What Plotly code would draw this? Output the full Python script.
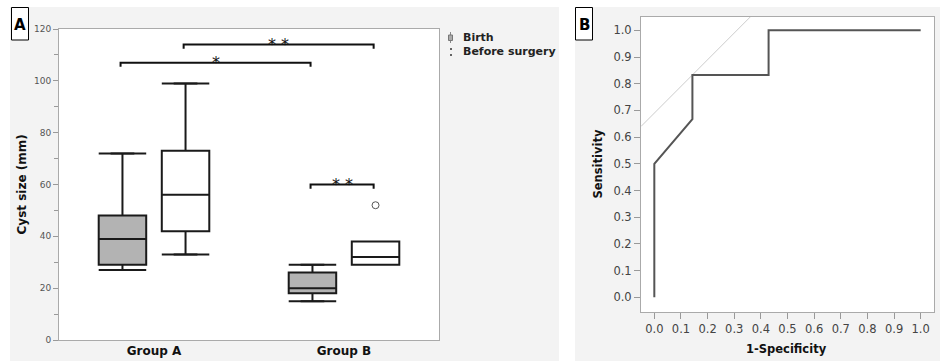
import plotly.graph_objects as go

# ---------------- data ----------------
groups = ["Group A", "Group B"]
birth_lower = [27, 15]
birth_q1 = [29, 18]
birth_median = [39, 20]
birth_q3 = [48, 26]
birth_upper = [72, 29]
surg_lower = [33, 29]
surg_q1 = [42, 29]
surg_median = [56, 32]
surg_q3 = [73, 38]
surg_upper = [99, 38]
surg_outlier_group = [1]
surg_outlier_value = [52]

# significance comparisons: (group a, series a, group b, series b, bracket height, label)
comparisons = [
    (0, "birth", 1, "birth", 107, "*"),
    (0, "surgery", 1, "surgery", 114, "* *"),
    (1, "birth", 1, "surgery", 60, "* *"),
]

roc_fpr = [0.0, 0.0, 0.143, 0.143, 0.429, 0.429, 1.0]
roc_tpr = [0.0, 0.5, 0.667, 0.833, 0.833, 1.0, 1.0]
roc_ticks = [0.0, 0.1, 0.2, 0.3, 0.4, 0.5, 0.6, 0.7, 0.8, 0.9, 1.0]

# ---------------- helpers ----------------
W, H = 940, 361
def px(x):
    return x / W
def py(y):
    return 1 - y / H

FONT = "DejaVu Sans"
OFFSET = 0.166
BOXW = 0.25
series_off = {"birth": -OFFSET, "surgery": OFFSET}
gpos = list(range(len(groups)))

fig = go.Figure()

# ---------------- panel A: boxes ----------------
def add_box(off, q1, med, q3, lo, hi, fill):
    xs = [g + off for g in gpos]
    fig.add_trace(go.Box(
        x=xs, q1=q1, median=med, q3=q3, lowerfence=lo, upperfence=hi,
        width=BOXW, fillcolor=fill, line=dict(color="#1a1a1a", width=2),
        boxpoints=False, hoverinfo="skip", showlegend=False,
        xaxis="x", yaxis="y"))
    # whisker caps
    cx, cy = [], []
    for x, l, h, a, b in zip(xs, lo, hi, q1, q3):
        if l < a:
            cx += [x - BOXW / 2, x + BOXW / 2, None]
            cy += [l, l, None]
        if h > b:
            cx += [x - BOXW / 2, x + BOXW / 2, None]
            cy += [h, h, None]
    fig.add_trace(go.Scatter(x=cx, y=cy, mode="lines",
                             line=dict(color="#1a1a1a", width=2),
                             hoverinfo="skip", showlegend=False,
                             xaxis="x", yaxis="y"))

add_box(series_off["birth"], birth_q1, birth_median, birth_q3,
        birth_lower, birth_upper, "#b3b3b3")
add_box(series_off["surgery"], surg_q1, surg_median, surg_q3,
        surg_lower, surg_upper, "white")

fig.add_trace(go.Scatter(
    x=[g + series_off["surgery"] for g in surg_outlier_group],
    y=surg_outlier_value, mode="markers",
    marker=dict(symbol="circle-open", size=7, color="#555", line=dict(width=1)),
    hoverinfo="skip", showlegend=False, xaxis="x", yaxis="y"))

annotations = []
TICKDROP = 1.6
for ga, sa, gb, sb, h, lab in comparisons:
    xa = ga + series_off[sa] - 0.01
    xb = gb + series_off[sb] - 0.01
    fig.add_trace(go.Scatter(
        x=[xa, xa, xb, xb], y=[h - TICKDROP, h, h, h - TICKDROP],
        mode="lines", line=dict(color="#111", width=2),
        hoverinfo="skip", showlegend=False, xaxis="x", yaxis="y"))
    annotations.append(dict(
        x=(xa + xb) / 2, y=h, xref="x", yref="y", text=lab, showarrow=False,
        xanchor="center", yanchor="bottom", yshift=-11,
        font=dict(family=FONT, size=16, color="#111")))

# ---------------- panel B: ROC ----------------
youden = max(t - f for t, f in zip(roc_tpr, roc_fpr))
xr = [-0.05, 1.05]
fig.add_trace(go.Scatter(
    x=xr, y=[x + youden for x in xr], mode="lines",
    line=dict(color="#cccccc", width=1), hoverinfo="skip", showlegend=False,
    xaxis="x2", yaxis="y2"))
fig.add_trace(go.Scatter(
    x=roc_fpr, y=roc_tpr, mode="lines",
    line=dict(color="#555555", width=2), hoverinfo="skip", showlegend=False,
    xaxis="x2", yaxis="y2"))

# ---------------- shapes (panels, letter boxes, legend icons) ----------------
shapes = [
    dict(type="rect", xref="paper", yref="paper", x0=px(10), x1=px(559),
         y0=py(361), y1=py(7), fillcolor="#f3f3f3", line=dict(width=0), layer="below"),
    dict(type="rect", xref="paper", yref="paper", x0=px(575), x1=px(940),
         y0=py(361), y1=py(7), fillcolor="#f3f3f3", line=dict(width=0), layer="below"),
    dict(type="rect", xref="paper", yref="paper", x0=px(59), x1=px(439),
         y0=py(340), y1=py(29), fillcolor="white", line=dict(width=0), layer="below"),
    dict(type="rect", xref="paper", yref="paper", x0=px(641), x1=px(934),
         y0=py(312), y1=py(17), fillcolor="white", line=dict(width=0), layer="below"),
    # letter boxes
    dict(type="rect", xref="paper", yref="paper", x0=px(11.5), x1=px(28.5),
         y0=py(40), y1=py(7.5), fillcolor="white", line=dict(color="black", width=1)),
    dict(type="rect", xref="paper", yref="paper", x0=px(575.5), x1=px(592.5),
         y0=py(40), y1=py(7.5), fillcolor="white", line=dict(color="black", width=1)),
    # legend icons
    dict(type="line", xref="paper", yref="paper", x0=px(450.5), x1=px(450.5),
         y0=py(43), y1=py(32), line=dict(color="#888", width=1)),
    dict(type="rect", xref="paper", yref="paper", x0=px(448.5), x1=px(452.5),
         y0=py(40.5), y1=py(35), fillcolor="#aaa", line=dict(color="#777", width=1)),
    dict(type="circle", xref="paper", yref="paper", x0=px(450), x1=px(452),
         y0=py(50), y1=py(48), fillcolor="#333", line=dict(width=0)),
    dict(type="circle", xref="paper", yref="paper", x0=px(450), x1=px(452),
         y0=py(56), y1=py(54), fillcolor="#333", line=dict(width=0)),
]

def ann(x, y, text, size, color="#111", xanchor="center", angle=0):
    return dict(x=px(x), y=py(y), xref="paper", yref="paper", text=text,
                xanchor=xanchor, yanchor="middle", textangle=angle,
                showarrow=False, font=dict(family=FONT, size=size, color=color))

annotations += [
    ann(20, 24.5, "<b>A</b>", 15, "black"),
    ann(584, 24.5, "<b>B</b>", 15, "black"),
    ann(461, 37, "<b>Birth</b>", 11, "#222", xanchor="left"),
    ann(461, 52, "<b>Before surgery</b>", 11, "#222", xanchor="left"),
    ann(21, 184.5, "<b>Cyst size (mm)</b>", 12, angle=-90),
    ann(597, 164.5, "<b>Sensitivity</b>", 11.5, angle=-90),
    ann(786, 349, "<b>1-Specificity</b>", 11.5),
]

axis_line = "#aaaaaa"
fig.update_layout(
    width=W, height=H, autosize=False,
    margin=dict(l=0, r=0, t=0, b=0, pad=0, autoexpand=False),
    paper_bgcolor="white", plot_bgcolor="white",
    showlegend=False,
    shapes=shapes, annotations=annotations,
    xaxis=dict(domain=[px(59), px(439)], anchor="y", range=[-0.5, 1.5],
               automargin=False,
               tickvals=gpos, ticktext=["<b>%s</b>" % g for g in groups],
               tickfont=dict(family=FONT, size=12, color="#111"),
               showgrid=False, zeroline=False, ticks="",
               showline=True, linecolor=axis_line, linewidth=1, mirror=True),
    yaxis=dict(domain=[py(340), py(29)], anchor="x", range=[0, 120],
               automargin=False,
               dtick=20, tick0=0, ticks="outside", ticklen=5, tickcolor="#999",
               tickfont=dict(family=FONT, size=9, color="#555"),
               minor=dict(dtick=10, ticks="outside", ticklen=4, tickcolor="#999"),
               showgrid=False, zeroline=False,
               showline=True, linecolor=axis_line, linewidth=1, mirror=True),
    xaxis2=dict(domain=[px(641), px(934)], anchor="y2", range=[-0.05, 1.05],
                automargin=False,
                tickvals=roc_ticks, tickformat=".1f",
                ticks="outside", ticklen=6, tickcolor="#999",
                tickfont=dict(family=FONT, size=11.5, color="#444"),
                showgrid=False, zeroline=False,
                showline=True, linecolor=axis_line, linewidth=1, mirror=True),
    yaxis2=dict(domain=[py(312), py(17)], anchor="x2", range=[-0.055, 1.05],
                automargin=False,
                tickvals=roc_ticks, tickformat=".1f",
                ticks="outside", ticklen=6, tickcolor="#999",
                tickfont=dict(family=FONT, size=11.5, color="#444"),
                showgrid=False, zeroline=False,
                showline=True, linecolor=axis_line, linewidth=1, mirror=True),
)

fig.write_html("out.html")
